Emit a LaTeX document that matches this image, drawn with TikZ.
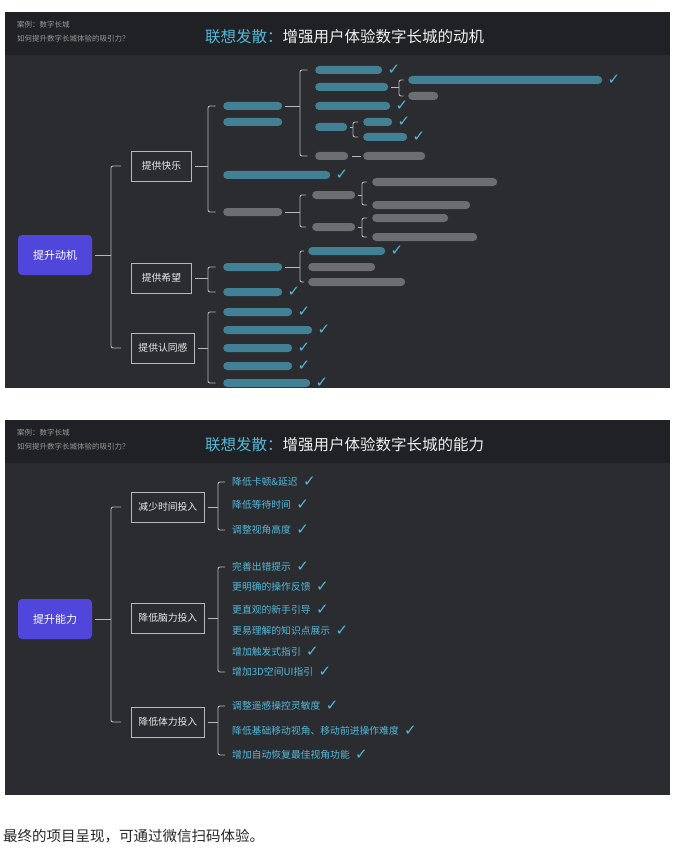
\documentclass[tikz,border=0pt]{standalone}
\usepackage{fontspec}
\setmainfont{Noto Sans CJK SC}
\newfontfamily\sym{DejaVu Sans}
\usetikzlibrary{positioning}
\definecolor{panel}{HTML}{2B2C30}
\definecolor{head}{HTML}{202124}
\definecolor{tint}{HTML}{52B9DA}
\definecolor{fog}{HTML}{9A9B9E}
\definecolor{wire}{HTML}{B8B8B8}
\definecolor{root}{HTML}{5046DC}
% brace: [offset]{parent}{first child}{last child}
\newcommand\brc[4][15]{%
  \draw[link] ([xshift=-#1pt/2]#3.west) -- ([xshift=-#1pt]#3.west) |- ([xshift=-#1pt/2]#4.west);
  \draw[link] ([xshift=3pt]#2.east) -- ([xshift=-#1pt]#3.west |- #2.east);}

\begin{document}
\begin{tikzpicture}[x=1pt, y=-1pt,
  link/.style={draw=wire, line width=0.9pt, rounded corners=2pt},
  rootbox/.style={fill=root, rounded corners=4pt, minimum width=74pt, minimum height=40pt,
                  text=white, font=\fontsize{11}{13}\selectfont},
  topic/.style={draw=wire, line width=0.9pt, minimum width=60pt, minimum height=30pt,
                inner xsep=7pt, anchor=west, text=white!92!black, font=\fontsize{9.8}{11}\selectfont},
  leaf/.style={anchor=west, inner sep=0pt, text=tint, font=\fontsize{9.8}{11}\selectfont},
  chk/.style={text=tint, font=\sym\fontsize{15}{15}\selectfont, inner sep=0pt, xshift=5pt},
  ok/.style={label={[chk]right:✓}},
  bar/.style={anchor=west, inner sep=0pt, minimum height=8pt, rounded corners=4pt, fill opacity=.6},
  bc/.style={bar, fill=tint, minimum width=#1},
  bg/.style={bar, fill=fog, minimum width=#1},
  note/.style={anchor=west, inner sep=0pt, text=gray!80, font=\fontsize{7.5}{9}\selectfont},
  heading/.style={anchor=west, inner sep=0pt, text=white!94!black, font=\fontsize{15.5}{18}\selectfont},
]
  \useasboundingbox (0,0) rectangle (683,853);

  % ---- panel 1: motivation
  \fill[head] (5,12) rectangle (670,55);
  \fill[panel] (5,55) rectangle (670,388);
  \node[note] (case1) at (17,25) {案例：数字长城};
  \node[note] (q1) at (17,39) {如何提升数字长城体验的吸引力？};
  \node[heading] (t1) at (205,37) {\textcolor{tint}{联想发散：}增强用户体验数字长城的动机};

  \node[rootbox] (r1) at (55,255) {提升动机};
  \node[topic] (k1) at (131,166) {提供快乐};
  \node[topic] (k2) at (131,278) {提供希望};
  \node[topic] (k3) at (131,348) {提供认同感};
  \brc[20]{r1}{k1}{k3}

  \node[bc=59] (f1) at (223,106) {};
  \node[bc=59] (f1b) at (223,122) {};
  \node[bc=107, ok] (f2) at (223,175) {};
  \node[bg=59] (f3) at (223,212) {};
  \brc{k1}{f1}{f3}

  \node[bc=67, ok] (g1) at (315,70) {};
  \node[bc=73] (g2) at (315,87) {};
  \node[bc=75, ok] (g3) at (315,106) {};
  \node[bc=32] (g4) at (315,127) {};
  \node[bg=33] (g5) at (315,156) {};
  \brc{f1}{g1}{g5}

  \node[bc=194, ok] (h1) at (408,80) {};
  \node[bg=30] (h2) at (408,96) {};
  \brc[9]{g2}{h1}{h2}
  \node[bc=29, ok] (h3) at (363,122) {};
  \node[bc=44, ok] (h4) at (363,137) {};
  \brc[10]{g4}{h3}{h4}
  \node[bg=62] (h5) at (363,156) {};
  \draw[link] ([xshift=4pt]g5.east) -- ([xshift=-2pt]h5.west);

  \node[bg=43] (i1) at (312,195) {};
  \node[bg=43] (i2) at (312,227) {};
  \brc[12]{f3}{i1}{i2}
  \node[bg=125] (j1) at (372,182) {};
  \node[bg=98] (j2) at (372,205) {};
  \brc[10]{i1}{j1}{j2}
  \node[bg=76] (j3) at (372,218) {};
  \node[bg=105] (j4) at (372,237) {};
  \brc[10]{i2}{j3}{j4}

  \node[bc=59] (m1) at (223,267) {};
  \node[bc=59, ok] (m2) at (223,292) {};
  \brc{k2}{m1}{m2}
  \node[bc=77, ok] (n1) at (308,251) {};
  \node[bg=67] (n2) at (308,267) {};
  \node[bg=97] (n3) at (308,282) {};
  \brc[8]{m1}{n1}{n3}

  \node[bc=69, ok] (p1) at (223,312) {};
  \node[bc=89, ok] (p2) at (223,330) {};
  \node[bc=69, ok] (p3) at (223,348) {};
  \node[bc=69, ok] (p4) at (223,366) {};
  \node[bc=87, ok] (p5) at (223,383) {};
  \brc{k3}{p1}{p5}

  % ---- panel 2: ability
  \fill[head] (5,420) rectangle (670,463);
  \fill[panel] (5,463) rectangle (670,795);
  \node[note] (case2) at (17,433) {案例：数字长城};
  \node[note] (q2) at (17,447) {如何提升数字长城体验的吸引力？};
  \node[heading] (t2) at (205,445) {\textcolor{tint}{联想发散：}增强用户体验数字长城的能力};

  \node[rootbox] (r2) at (55,619) {提升能力};
  \node[topic] (b1) at (131,507) {减少时间投入};
  \node[topic] (b2) at (131,618) {降低脑力投入};
  \node[topic] (b3) at (131,722) {降低体力投入};
  \brc[20]{r2}{b1}{b3}

  \node[leaf, ok] (s1) at (232,482) {降低卡顿\&延迟};
  \node[leaf, ok] (s2) at (232,505) {降低等待时间};
  \node[leaf, ok] (s3) at (232,530) {调整视角高度};
  \brc[14]{b1}{s1}{s3}

  \node[leaf, ok] (u1) at (232,567) {完善出错提示};
  \node[leaf, ok] (u2) at (232,587) {更明确的操作反馈};
  \node[leaf, ok] (u3) at (232,610) {更直观的新手引导};
  \node[leaf, ok] (u4) at (232,631) {更易理解的知识点展示};
  \node[leaf, ok] (u5) at (232,652) {增加触发式指引};
  \node[leaf, ok] (u6) at (232,672) {增加3D空间UI指引};
  \brc[14]{b2}{u1}{u6}

  \node[leaf, ok] (v1) at (232,706) {调整遥感操控灵敏度};
  \node[leaf, ok] (v2) at (232,731) {降低基础移动视角、移动前进操作难度};
  \node[leaf, ok] (v3) at (232,755) {增加自动恢复最佳视角功能};
  \brc[14]{b3}{v1}{v3}

  \node[anchor=west, inner sep=0pt, text=black!85, font=\fontsize{14.5}{17}\selectfont] (tail) at (3,836)
    {最终的项目呈现，可通过微信扫码体验。};
\end{tikzpicture}
\end{document}
